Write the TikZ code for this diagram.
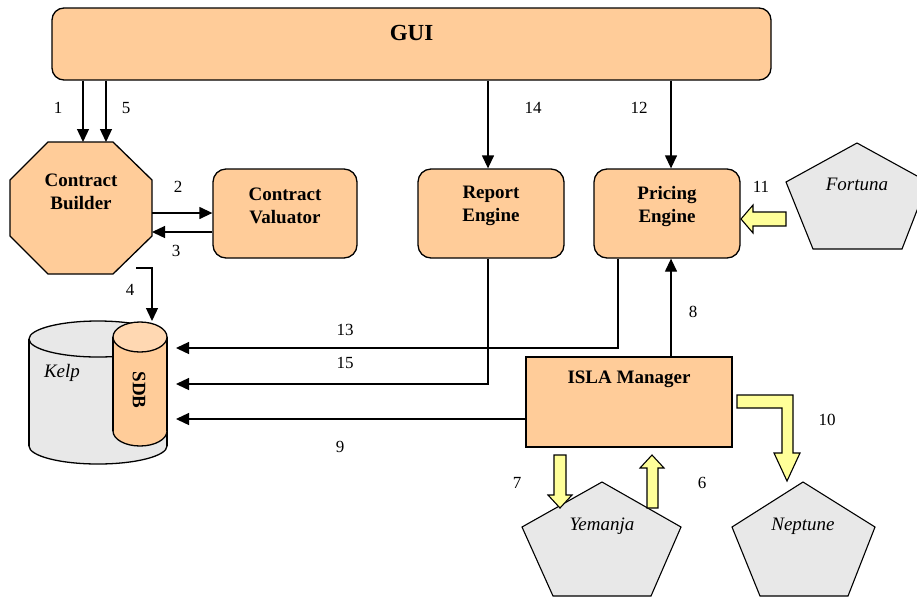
\documentclass[tikz,border=0pt]{standalone}
\usepackage{fontspec}
\setmainfont{Liberation Serif}
\newfontfamily\diagfont{Liberation Serif}
\usetikzlibrary{arrows.meta}
\definecolor{boxfill}{HTML}{FFCC99}
\definecolor{boxtop}{HTML}{FFD8B2}
\definecolor{greyfill}{HTML}{E8E8E8}
\definecolor{flowfill}{HTML}{FFFF99}
\begin{document}
\begin{tikzpicture}[x=1pt,y=-1pt,
  line width=1.3pt,
  rbox/.style={draw, fill=boxfill, rounded corners=12pt, inner sep=0pt},
  sbox/.style={draw, fill=boxfill, inner sep=0pt},
  ghost/.style={inner sep=0pt, outer sep=0pt},
  title/.style={inner sep=0pt, align=center, font=\fontsize{19}{23}\selectfont\diagfont\bfseries},
  ital/.style={inner sep=0pt, font=\fontsize{19}{23}\selectfont\diagfont\itshape},
  num/.style={inner sep=0pt, font=\fontsize{17}{20}\selectfont\diagfont},
  arr/.style={draw, -{Triangle[length=13pt,width=12pt]}},
  flow/.style={draw, fill=flowfill, line width=1.1pt, line join=miter},
  pent/.style={draw, fill=greyfill, line width=1.1pt}]
\clip (0,0) rectangle (917,598);
\fill[white] (0,0) rectangle (917,598);

% ---------- boxes ----------
\node[rbox, minimum width=719pt, minimum height=72pt] (gui) at (411.5,44) {};
\node[title, font=\fontsize{23}{27}\selectfont\diagfont\bfseries] (guit) at ([yshift=11pt]gui.center) {GUI};

\node[rbox, rounded corners=13pt, minimum width=144pt, minimum height=89pt] (valuator) at (285,213.5) {};
\node[title] (valuatort) at ([yshift=7.5pt]valuator.center) {Contract\\Valuator};

\node[rbox, rounded corners=13pt, minimum width=146pt, minimum height=89pt] (report) at (491,213.5) {};
\node[title] (reportt) at ([yshift=7.5pt]report.center) {Report\\Engine};

\node[rbox, rounded corners=13pt, minimum width=146pt, minimum height=89pt] (pricing) at (667,213.5) {};
\node[title] (pricingt) at ([yshift=7.5pt]pricing.center) {Pricing\\Engine};

\node[sbox, minimum width=206pt, minimum height=90pt] (isla) at (629,402) {};
\node[title] (islat) at ([yshift=23pt]isla.center) {ISLA Manager};

% octagon for the contract builder
\node[ghost, minimum width=142pt, minimum height=132pt] (builder) at (81,208) {};
\filldraw[fill=boxfill] (48,142) -- (113,142) -- (152,180) -- (152,236) -- (113,274)
  -- (48,274) -- (10,236) -- (10,180) -- cycle;
\node[title] (buildert) at ([yshift=16pt]builder.center) {Contract\\Builder};

% ---------- databases ----------
\node[ghost, minimum width=138pt, minimum height=143pt] (kelp) at (98,392.5) {};
\fill[greyfill] (29,339) rectangle (167,446);
\fill[greyfill] (98,446) ellipse[x radius=69, y radius=18];
\draw (29,339) -- (29,446) (167,339) -- (167,446);
\begin{scope}
  \clip (0,446) rectangle (917,598);
  \draw (98,446) ellipse[x radius=69, y radius=18];
\end{scope}
\filldraw[fill=greyfill] (98,339) ellipse[x radius=69, y radius=18];
\node[ital] (kelpt) at (62,373) {Kelp};

\node[ghost, minimum width=54pt, minimum height=124pt] (sdb) at (140,384) {};
\fill[boxfill] (113,337) rectangle (167,431);
\fill[boxfill] (140,431) ellipse[x radius=27, y radius=15];
\draw (113,337) -- (113,431) (167,337) -- (167,431);
\begin{scope}
  \clip (0,431) rectangle (917,598);
  \draw (140,431) ellipse[x radius=27, y radius=15];
\end{scope}
\filldraw[fill=boxtop] (140,337) ellipse[x radius=27, y radius=15];
\node[title, rotate=-90] (sdbt) at (139,390) {SDB};

% ---------- external systems ----------
\filldraw[pent] (857,143) -- (928,182) -- (902,249) -- (813,249) -- (786,182) -- cycle;
\node[ital] (fortuna) at (857,184) {Fortuna};
\filldraw[pent] (602,482) -- (681,527) -- (651,596) -- (553,596) -- (522,527) -- cycle;
\node[ital] (yemanja) at (602,526) {Yemanja};
\filldraw[pent] (803,482) -- (875,527) -- (848,596) -- (760,596) -- (732,527) -- cycle;
\node[ital] (neptune) at (803,526) {Neptune};

% ---------- connectors ----------
\coordinate (in1) at ([xshift=2pt]builder.north);
\coordinate (in5) at ([xshift=25pt]builder.north);
\draw[arr] (gui.south -| in1) -- (in1);
\draw[arr] (gui.south -| in5) -- (in5);

\coordinate (out2) at ([yshift=-5pt]builder.east);
\draw[arr] (out2) -- (valuator.west |- out2);
\coordinate (out3) at ([yshift=-18.5pt]valuator.west);
\draw[arr] (out3) -- (builder.east |- out3);

\coordinate (in14) at ([xshift=-3pt]report.north);
\draw[arr] (gui.south -| in14) -- (in14);
\coordinate (in12) at ([xshift=4pt]pricing.north);
\draw[arr] (gui.south -| in12) -- (in12);

\coordinate (out8) at ([xshift=42pt]isla.north);
\draw[arr] (out8) -- (pricing.south -| out8);

\coordinate (s4) at (136,268);
\draw[arr] (s4) -| ([xshift=12pt,yshift=1pt]sdb.north);

\coordinate (t13) at (176,348);
\coordinate (t15) at (176,384);
\coordinate (t9) at (176,419);
\draw[arr] ([xshift=-49pt]pricing.south) |- (t13);
\draw[arr] ([xshift=-3pt]report.south) |- (t15);
\draw[arr] (isla.west |- t9) -- (t9);

% ---------- data feeds ----------
\filldraw[flow] (786,212) -- (753,212) -- (753,205) -- (741,219) -- (753,233) -- (753,226) -- (786,226) -- cycle;
\filldraw[flow] (554,455) -- (566,455) -- (566,495) -- (572,495) -- (560,508) -- (548,495) -- (554,495) -- cycle;
\filldraw[flow] (647,508) -- (658,508) -- (658,468) -- (664,468) -- (652,455) -- (640,468) -- (647,468) -- cycle;
\filldraw[flow] (737,395) -- (793,395) -- (793,453) -- (800,453) -- (787,481) -- (774,453) -- (782,453) -- (782,408) -- (737,408) -- cycle;

% ---------- step numbers ----------
\node[num] (n1) at (58,108) {1};
\node[num] (n5) at (126,108) {5};
\node[num] (n2) at (178,187) {2};
\node[num] (n3) at (176,251) {3};
\node[num] (n4) at (130,290) {4};
\node[num] (n14) at (533,108) {14};
\node[num] (n12) at (639,108) {12};
\node[num] (n11) at (761,187) {11};
\node[num] (n8) at (693,312) {8};
\node[num] (n13) at (345,330) {13};
\node[num] (n15) at (345,363) {15};
\node[num] (n9) at (340,447) {9};
\node[num] (n7) at (517,483) {7};
\node[num] (n6) at (702,483) {6};
\node[num] (n10) at (827,420) {10};
\end{tikzpicture}
\end{document}
